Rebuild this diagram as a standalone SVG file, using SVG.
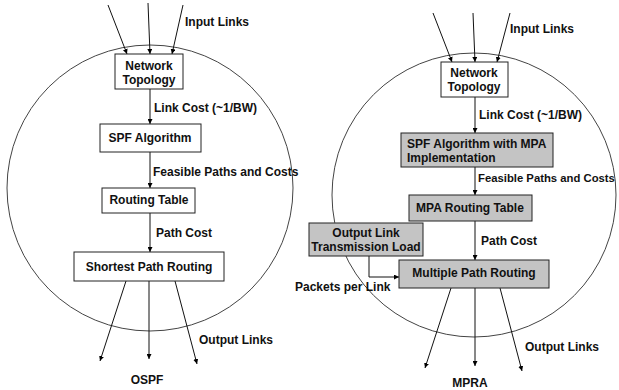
<svg xmlns="http://www.w3.org/2000/svg" width="619" height="390" viewBox="0 0 619 390">
<defs>
<marker id="ah" viewBox="0 0 6 6" refX="6" refY="3" markerWidth="5" markerHeight="5" orient="auto" markerUnits="userSpaceOnUse">
<path d="M0,0 L6,3 L0,6 Z" fill="#000"/>
</marker>
</defs>
<style>
text{font-family:"Liberation Sans",Arial,sans-serif;font-weight:bold;font-size:12px;fill:#111}
.c{text-anchor:middle}
.box{fill:#fff;stroke:#222;stroke-width:1}
.gbox{fill:#c4c4c4;stroke:#222;stroke-width:1}
.ln{stroke:#111;stroke-width:1;fill:none;marker-end:url(#ah)}
.circ{fill:none;stroke:#444;stroke-width:1}
.sm{font-size:11.3px}
</style>
<rect width="619" height="390" fill="#fff"/>
<circle class="circ" cx="150" cy="188" r="143"/>
<circle class="circ" cx="474" cy="195" r="142"/>
<g id="connectors">
<line class="ln" x1="108" y1="5" x2="127" y2="54"/>
<line class="ln" x1="148" y1="3" x2="150" y2="54"/>
<line class="ln" x1="183" y1="5" x2="172" y2="54"/>
<line class="ln" x1="150" y1="89" x2="150" y2="124"/>
<line class="ln" x1="150" y1="152" x2="150" y2="188"/>
<line class="ln" x1="150" y1="213" x2="150" y2="252"/>
<line class="ln" x1="126" y1="281" x2="100" y2="361"/>
<line class="ln" x1="149" y1="281" x2="149" y2="359"/>
<line class="ln" x1="175" y1="281" x2="197" y2="364"/>
<line class="ln" x1="433" y1="13" x2="452" y2="62"/>
<line class="ln" x1="473" y1="13" x2="475" y2="62"/>
<line class="ln" x1="510" y1="13" x2="497" y2="62"/>
<line class="ln" x1="475" y1="97" x2="475" y2="133"/>
<line class="ln" x1="475" y1="167" x2="475" y2="195"/>
<line class="ln" x1="475" y1="221" x2="475" y2="260"/>
<polyline class="ln" points="369,256 369,277 399,277"/>
<line class="ln" x1="451" y1="288" x2="425" y2="368"/>
<line class="ln" x1="475" y1="288" x2="475" y2="366"/>
<line class="ln" x1="500" y1="288" x2="522" y2="371"/>
</g>
<g id="l-topology"><rect class="box" x="115" y="54" width="68" height="35"/><text class="c" x="149" y="70">Network</text><text class="c" x="149" y="84">Topology</text></g>
<g id="l-spf"><rect class="box" x="100" y="124" width="101" height="28"/><text class="c" x="150" y="142">SPF Algorithm</text></g>
<g id="l-routing"><rect class="box" x="102" y="188" width="93" height="25"/><text class="c" x="149" y="204">Routing Table</text></g>
<g id="l-spr"><rect class="box" x="74" y="252" width="150" height="29"/><text class="c" x="149" y="271">Shortest Path Routing</text></g>
<g id="l-labels">
<text x="185" y="26">Input Links</text>
<text x="154" y="112">Link Cost (~1/BW)</text>
<text x="153" y="176">Feasible Paths and Costs</text>
<text x="156" y="237">Path Cost</text>
<text x="199" y="344">Output Links</text>
<text class="c" x="147" y="384">OSPF</text>
</g>
<g id="r-topology"><rect class="box" x="441" y="62" width="67" height="35"/><text class="c" x="474" y="77">Network</text><text class="c" x="474" y="91">Topology</text></g>
<g id="r-spf"><rect class="gbox" x="401" y="133" width="152" height="34"/><text x="407" y="148">SPF Algorithm with MPA</text><text x="407" y="162">Implementation</text></g>
<g id="r-mpatable"><rect class="gbox" x="409" y="195" width="123" height="26"/><text class="c" x="470" y="212">MPA Routing Table</text></g>
<g id="r-load"><rect class="gbox" x="309" y="223" width="114" height="33"/><text class="c" x="366" y="237">Output Link</text><text class="c" x="366" y="251">Transmission Load</text></g>
<g id="r-mpr"><rect class="gbox" x="399" y="260" width="150" height="28"/><text class="c" x="474" y="277">Multiple Path Routing</text></g>
<g id="r-labels">
<text x="510" y="33">Input Links</text>
<text x="479" y="119">Link Cost (~1/BW)</text>
<text class="sm" x="478" y="182">Feasible Paths and Costs</text>
<text x="481" y="245">Path Cost</text>
<text x="295" y="291">Packets per Link</text>
<text x="525" y="351">Output Links</text>
<text class="c" x="470" y="387">MPRA</text>
</g>
</svg>
